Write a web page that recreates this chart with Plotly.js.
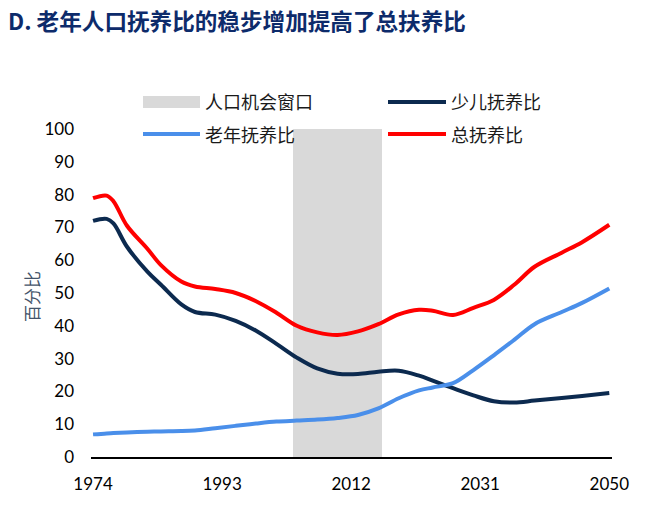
<!DOCTYPE html>
<html>
<head>
<meta charset="utf-8">
<script src="https://cdn.plot.ly/plotly-3.0.1.min.js"></script>
<style>
  html, body { margin: 0; padding: 0; background: #fff; }
  #chart { width: 651px; height: 514px; }
</style>
</head>
<body>
<div id="chart"></div>
<script>
// ---- Data ----
const years = [1974, 1976, 1977, 1979, 1982, 1984, 1987, 1989, 1992, 1995, 1998, 2001, 2004, 2007, 2010, 2013, 2016, 2019, 2022, 2024, 2027, 2030, 2033, 2036, 2039, 2043, 2046, 2050];
const youthRatio = [72.0, 72.6, 71.2, 64.1, 56.5, 52.5, 46.5, 44.2, 43.4, 41.5, 38.5, 34.5, 30.3, 27.0, 25.4, 25.3, 26.0, 26.3, 24.8, 23.3, 21.0, 18.8, 17.0, 16.6, 17.2, 18.0, 18.6, 19.5];
const elderlyRatio = [6.9, 7.2, 7.3, 7.5, 7.7, 7.8, 7.9, 8.1, 8.8, 9.5, 10.2, 10.8, 11.1, 11.4, 11.9, 12.8, 14.8, 17.9, 20.3, 21.2, 22.5, 26.5, 31.0, 35.7, 40.5, 44.2, 47.0, 51.4];
const totalRatio = [78.9, 79.7, 78.0, 70.5, 63.5, 58.5, 53.5, 52.0, 51.2, 50.0, 47.5, 44.0, 40.0, 38.0, 37.2, 38.3, 40.5, 43.5, 44.9, 44.6, 43.3, 45.5, 47.9, 52.5, 58.0, 62.3, 65.5, 70.8];
const windowYears = [2004, 2016];       // 人口机会窗口 (first and last year)
const windowHeight = [100];
const xTickYears = [1974, 1993, 2012, 2031, 2050];
const yTickValues = [0, 10, 20, 30, 40, 50, 60, 70, 80, 90, 100];

const seriesNames = ['人口机会窗口', '少儿抚养比', '老年抚养比', '总抚养比'];
const colors = { window: '#D9D9D9', youth: '#0C2A4F', elderly: '#4A8FEA', total: '#FF0000' };

// ---- Plot geometry (pixels) ----
const W = 651, H = 514;
const M = { l: 91, r: 39, t: 129, b: 57 };
const pw = W - M.l - M.r, ph = H - M.t - M.b;
const px2x = p => (p - M.l) / pw;
const py2y = p => (H - M.b - p) / ph;

const traces = [
  {
    type: 'bar',
    name: seriesNames[0],
    x: [(windowYears[0] + windowYears[1]) / 2],
    y: windowHeight,
    width: [windowYears[1] - windowYears[0] + 1],
    marker: { color: colors.window, line: { width: 0 } },
    hoverinfo: 'skip',
    showlegend: false
  },
  {
    type: 'scatter', mode: 'lines', name: seriesNames[1],
    x: years, y: youthRatio,
    line: { color: colors.youth, width: 4, shape: 'spline', smoothing: 1 },
    showlegend: false
  },
  {
    type: 'scatter', mode: 'lines', name: seriesNames[2],
    x: years, y: elderlyRatio,
    line: { color: colors.elderly, width: 4, shape: 'spline', smoothing: 1 },
    showlegend: false
  },
  {
    type: 'scatter', mode: 'lines', name: seriesNames[3],
    x: years, y: totalRatio,
    line: { color: colors.total, width: 4, shape: 'spline', smoothing: 1 },
    showlegend: false
  }
];

// ---- Hand-drawn legend (2 x 2 grid, like the reference) ----
const legendFont = { family: '"Noto Sans CJK SC", "Noto Sans", sans-serif', size: 18, color: '#1a1a1a' };
const col1 = [143, 200], col2 = [388, 446];
const row1 = 102, row2 = 134;
const shapes = [
  { type: 'rect', xref: 'paper', yref: 'paper', x0: px2x(col1[0]), x1: px2x(col1[1]), y0: py2y(108), y1: py2y(96),
    fillcolor: colors.window, line: { width: 0 } },
  { type: 'line', xref: 'paper', yref: 'paper', x0: px2x(col2[0]), x1: px2x(col2[1]), y0: py2y(row1), y1: py2y(row1),
    line: { color: colors.youth, width: 4 } },
  { type: 'line', xref: 'paper', yref: 'paper', x0: px2x(col1[0]), x1: px2x(col1[1]), y0: py2y(row2), y1: py2y(row2),
    line: { color: colors.elderly, width: 4 } },
  { type: 'line', xref: 'paper', yref: 'paper', x0: px2x(col2[0]), x1: px2x(col2[1]), y0: py2y(row2), y1: py2y(row2),
    line: { color: colors.total, width: 4 } }
];
const legendAnn = (text, xp, yp) => ({
  text, xref: 'paper', yref: 'paper', x: px2x(xp), y: py2y(yp),
  xanchor: 'left', yanchor: 'middle', showarrow: false, font: legendFont
});
const annotations = [
  legendAnn(seriesNames[0], 203, row1 - 1),
  legendAnn(seriesNames[1], 449, row1 - 1),
  legendAnn(seriesNames[2], 203, row2),
  legendAnn(seriesNames[3], 449, row2),
  {
    text: '百分比', xref: 'paper', yref: 'paper', x: px2x(31), y: py2y(297),
    xanchor: 'center', yanchor: 'middle', textangle: -90, showarrow: false,
    font: { family: '"Noto Sans CJK SC", sans-serif', size: 17, color: '#44546A' }
  }
];

const tickFont = { family: 'Lato, "Open Sans", sans-serif', size: 17, color: '#000000' };

const layout = {
  width: W, height: H,
  margin: M,
  paper_bgcolor: '#ffffff', plot_bgcolor: '#ffffff',
  title: {
    text: '<b>D. 老年人口抚养比的稳步增加提高了总扶养比</b>',
    xref: 'container', yref: 'container', x: 8 / W, y: 1 - 22 / H,
    xanchor: 'left', yanchor: 'middle',
    font: { family: '"Noto Sans CJK SC", sans-serif', size: 22.6, color: '#0D2B6B' }
  },
  showlegend: false,
  xaxis: {
    range: [1973.7, 2050.4],
    tickmode: 'array', tickvals: xTickYears, ticktext: xTickYears.map(String),
    showgrid: false, zeroline: false,
    showline: true, linecolor: '#000000', linewidth: 1.5,
    ticks: '', ticklabelstandoff: 11,
    tickfont: tickFont, fixedrange: true
  },
  yaxis: {
    range: [0, 100],
    tickmode: 'array', tickvals: yTickValues,
    showgrid: false, zeroline: false, showline: false,
    ticks: '', ticklabelstandoff: 16,
    tickfont: tickFont, fixedrange: true
  },
  shapes, annotations,
  bargap: 0
};

Plotly.newPlot('chart', traces, layout, { displayModeBar: false, staticPlot: true });
</script>
</body>
</html>
